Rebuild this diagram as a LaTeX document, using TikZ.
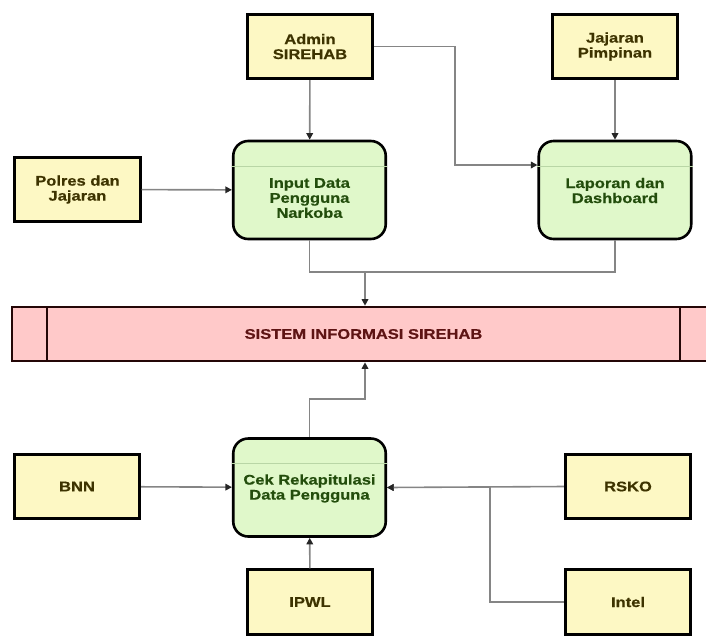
\documentclass[tikz,border=0pt]{standalone}
\usepackage{fontspec}
\setmainfont[FakeStretch=1.18, BoldFeatures={FakeBold=0.5}]{Liberation Sans}
\usetikzlibrary{arrows.meta}

\definecolor{entfill}{HTML}{FDF8C4}
\definecolor{entText}{HTML}{3D3300}
\definecolor{procfill}{HTML}{E0F8CA}
\definecolor{procText}{HTML}{234D0C}
\definecolor{procRule}{HTML}{B9D6A6}
\definecolor{sysfill}{HTML}{FFC9C9}
\definecolor{sysText}{HTML}{5E1414}
\definecolor{sysEdge}{HTML}{240606}
\definecolor{wire}{HTML}{858585}

\tikzset{
  entity/.style={draw=black, line width=2.6pt, fill=entfill, rectangle,
    minimum width=125.5pt, minimum height=64.5pt, inner sep=0pt,
    align=center, text=entText, font=\fontsize{14}{15}\selectfont\bfseries},
  process/.style={draw=black, line width=2.6pt, fill=procfill, rectangle,
    rounded corners=15pt, minimum width=152.5pt, minimum height=98pt, inner sep=0pt},
  proctext/.style={align=center, text=procText, inner sep=0pt,
    font=\fontsize{14}{15}\selectfont\bfseries},
  divider/.style={draw=procRule, line width=1.2pt},
  conn/.style={draw=wire, line width=1.6pt},
  arr/.style={conn, -{Triangle[length=6.5pt,width=6.5pt,color=black!85]}},
}

\begin{document}
\begin{tikzpicture}[x=1pt,y=-1pt]
\useasboundingbox (0,0) rectangle (706,635);
\clip (0,0) rectangle (706,635);

% external entities
\node[entity] (admin)   at (310,46.5)  {Admin\\SIREHAB};
\node[entity] (pimpin)  at (615,46.5)  {Jajaran\\Pimpinan};
\node[entity] (polres)  at (77.5,189.5) {Polres dan\\Jajaran};
\node[entity] (bnn)     at (77,486.5)  {BNN};
\node[entity] (rsko)    at (628,486.5) {RSKO};
\node[entity] (ipwl)    at (310,602)   {IPWL};
\node[entity] (intel)   at (628,602)   {Intel};

% processes
\node[process] (input)   at (309.5,190)   {};
\node[process] (laporan) at (615,190)     {};
\node[process] (cek)     at (309.5,487.5) {};
\foreach \p in {input,laporan,cek}{
  \draw[divider] ([yshift=-26.5pt]\p.north west) -- ([yshift=-26.5pt]\p.north east);
}
\node[proctext] (inputtxt)   at (309.5,198)   {Input Data\\Pengguna\\Narkoba};
\node[proctext] (laporantxt) at (615,190.5)   {Laporan dan\\Dashboard};
\node[proctext] (cektxt)     at (309.5,488.5) {Cek Rekapitulasi\\Data Pengguna};

% central system bar
\node[draw=sysEdge, line width=2.6pt, fill=sysfill, rectangle,
      minimum width=703pt, minimum height=54pt, inner sep=0pt,
      text=sysText, font=\fontsize{14}{15}\selectfont\bfseries]
      (sys) at (363.5,334) {SISTEM INFORMASI SIREHAB};
\draw[draw=sysEdge, line width=2.6pt] (47,307) -- (47,361);
\draw[draw=sysEdge, line width=2.6pt] (680,307) -- (680,361);

% junction points
\coordinate (upmerge)  at (365,272);
\coordinate (lowmerge) at (365,399);
\coordinate (intelj)   at (490,487.5);

% connectors
\draw[arr] (admin) -- (input);
\draw[arr] (pimpin) -- (laporan);
\draw[arr] (polres) -- (input);
\draw[arr] (admin.east) -- (455,46.5) -- (455,165) -- ([yshift=25pt]laporan.west);
\draw[conn] (input.south) |- (upmerge) -| (laporan.south);
\draw[arr] (upmerge) -- (upmerge |- sys.north);
\draw[arr] (cek.north) |- (lowmerge) -- (lowmerge |- sys.south);
\draw[arr] (bnn) -- (cek);
\draw[arr] (rsko.west) -- (cek.east);
\draw[arr] (intel.west) -| (intelj) -- (cek.east);
\draw[arr] (ipwl) -- (cek);
\end{tikzpicture}
\end{document}
